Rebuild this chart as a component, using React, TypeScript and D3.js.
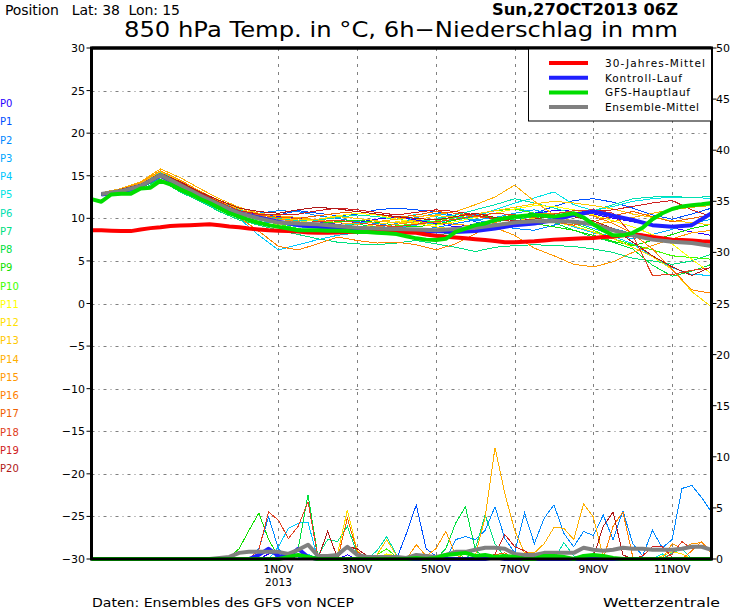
import React, { useRef, useEffect } from "react";
import * as d3 from "d3";

const W = 730;
const H = 609;

// axis ticks
const tempTicks = [30, 25, 20, 15, 10, 5, 0, -5, -10, -15, -20, -25, -30];
const precTicks = [50, 45, 40, 35, 30, 25, 20, 15, 10, 5, 0];
const dateLabels = ["1NOV", "3NOV", "5NOV", "7NOV", "9NOV", "11NOV"];
const dateDays = [1, 3, 5, 7, 9, 11];

const memberNames = ["P0", "P1", "P2", "P3", "P4", "P5", "P6", "P7", "P8", "P9", "P10",
  "P11", "P12", "P13", "P14", "P15", "P16", "P17", "P18", "P19", "P20"];
const memberColors = ["#2a00ff", "#0050ff", "#0088ff", "#00a8ff", "#00c8ff", "#00e4e4", "#00e0b0",
  "#00e080", "#00e040", "#10e000", "#40ff00", "#ffff00", "#ffe000", "#ffc800", "#ffb000",
  "#ff9800", "#ff8000", "#f06000", "#e04020", "#d02020", "#b01818"];

const legendNames = ["30-Jahres-Mittel", "Kontroll-Lauf", "GFS-Hauptlauf", "Ensemble-Mittel"];
const legendColors = ["#ff0000", "#2020ff", "#00dd00", "#808080"];
const legendWidths = [100, 77, 85, 94];

// 6-hourly, 0h .. 378h
const climTemp = [8.6, 8.6, 8.55, 8.5, 8.5, 8.7, 8.85, 8.95, 9.1, 9.15,
  9.2, 9.25, 9.3, 9.2, 9.05, 8.95, 8.8, 8.7, 8.6, 8.55,
  8.5, 8.45, 8.35, 8.3, 8.3, 8.35, 8.4, 8.4, 8.4, 8.4,
  8.4, 8.4, 8.35, 8.3, 8.1, 7.95, 7.85, 7.75, 7.65, 7.55,
  7.45, 7.35, 7.2, 7.2, 7.25, 7.3, 7.4, 7.5, 7.55, 7.6,
  7.65, 7.7, 7.8, 7.85, 8.0, 8.1, 8.0, 7.8, 7.65, 7.5,
  7.45, 7.4, 7.3, 7.25];
const mainTemp = [12.25, 11.95, 12.8, 12.9, 12.9, 13.5, 13.6, 14.4, 14.0, 13.4,
  12.9, 12.3, 11.8, 11.2, 10.6, 10.2, 9.8, 9.5, 9.2, 9.0,
  8.8, 8.6, 8.6, 8.6, 8.55, 8.55, 8.5, 8.4, 8.4, 8.3,
  8.25, 8.15, 7.9, 7.65, 7.5, 7.45, 7.6, 8.4, 8.8, 9.2,
  9.4, 9.8, 10.0, 10.2, 10.3, 10.4, 10.3, 10.2, 10.4, 10.6,
  10.1, 9.3, 8.6, 8.0, 8.0, 8.3, 8.9, 9.9, 10.6, 11.1,
  11.4, 11.55, 11.65, 11.8];

// 12-hourly, 6h .. 378h
const meanTemp = [12.85, 13.2, 13.8, 15.1, 13.9, 12.7, 11.6, 10.6, 10.0, 9.5, 9.4, 9.3, 9.1, 8.9, 8.8, 8.75,
  8.7, 8.6, 8.75, 8.9, 9.2, 9.5, 9.65, 9.7, 9.6, 9.3, 8.6, 8.0, 7.5, 7.25, 7.1, 6.75];
const ctrlTemp = [12.8, 13.1, 13.8, 15.0, 13.8, 12.5, 11.4, 10.6, 10.1, 9.6, 9.2, 9.0, 8.8, 8.6, 8.5, 8.4,
  8.4, 8.5, 8.4, 8.5, 8.8, 9.2, 9.4, 9.8, 10.4, 10.8, 10.3, 9.8, 9.2, 9.0, 9.2, 10.6];
const memberTemp = [
  [12.9, 13.3, 13.9, 15.2, 14.0, 12.8, 11.7, 10.8, 10.4, 10.2, 10.0, 9.6, 9.3, 9.5, 9.9, 10.2, 9.8, 9.4, 9.0, 9.3, 9.8, 10.3, 10.6, 10.9, 11.0, 10.5, 10.0, 9.6, 9.2, 8.9, 8.4, 8.0],
  [12.8, 13.2, 13.8, 15.0, 13.8, 12.6, 11.5, 10.5, 10.2, 10.4, 10.9, 10.6, 10.3, 10.5, 11.0, 11.2, 11.0, 10.8, 10.3, 9.6, 9.0, 9.5, 10.6, 11.4, 12.1, 12.3, 11.9, 11.2, 10.4, 9.9, 10.5, 11.2],
  [12.9, 13.3, 14.0, 15.3, 14.2, 13.0, 11.9, 10.9, 10.6, 10.9, 10.8, 10.3, 10.0, 9.6, 9.4, 9.0, 8.7, 8.9, 9.4, 9.8, 9.4, 8.8, 8.6, 9.2, 9.8, 9.4, 8.8, 8.2, 7.7, 7.4, 7.0, 6.6],
  [12.8, 13.1, 13.7, 14.9, 13.7, 12.4, 11.3, 10.3, 9.6, 9.4, 9.2, 9.0, 8.8, 8.6, 8.9, 9.4, 10.1, 10.6, 10.2, 9.8, 10.1, 10.6, 11.0, 10.4, 9.6, 8.8, 8.1, 7.6, 8.1, 8.7, 9.4, 9.9],
  [12.7, 13.0, 13.5, 14.8, 13.5, 12.1, 11.0, 10.0, 8.0, 6.3, 6.9, 7.5, 8.0, 8.3, 8.6, 8.9, 9.2, 9.5, 9.9, 10.4, 10.9, 11.3, 10.6, 9.8, 9.0, 8.3, 7.9, 7.0, 5.5, 4.2, 3.4, 3.3],
  [12.8, 13.2, 13.8, 15.1, 13.9, 12.6, 11.5, 10.5, 9.8, 9.4, 9.0, 8.9, 9.1, 9.4, 9.6, 9.9, 10.5, 10.2, 9.8, 10.2, 11.0, 11.8, 12.4, 13.1, 11.6, 10.9, 11.4, 12.0, 12.3, 12.5, 12.5, 12.3],
  [12.9, 13.4, 14.1, 15.4, 14.3, 13.1, 12.0, 11.0, 10.5, 10.0, 9.7, 9.8, 10.1, 10.4, 10.2, 9.9, 9.6, 9.9, 10.4, 11.0, 11.6, 12.3, 11.8, 11.2, 10.6, 10.9, 11.6, 12.3, 12.5, 12.6, 12.4, 12.6],
  [12.8, 13.0, 13.4, 14.5, 13.1, 12.0, 10.8, 9.8, 9.2, 8.6, 8.1, 7.6, 7.2, 7.0, 6.9, 7.1, 7.4, 7.0, 6.6, 6.1, 6.6, 6.8, 6.9, 6.8, 6.7, 6.4, 6.0, 5.3, 5.0, 4.6, 5.0, 5.8],
  [12.7, 13.1, 13.6, 14.6, 13.2, 12.2, 11.0, 10.0, 9.3, 8.9, 8.4, 8.6, 9.0, 9.3, 9.0, 8.6, 8.3, 8.0, 8.4, 9.0, 9.6, 9.9, 10.2, 9.5, 8.6, 7.8, 7.2, 6.4, 4.5, 3.2, 3.8, 4.6],
  [12.9, 13.3, 14.0, 15.2, 14.1, 12.9, 11.8, 10.7, 10.0, 9.6, 9.3, 9.4, 9.6, 9.8, 9.5, 9.2, 9.0, 9.3, 9.8, 10.3, 10.1, 9.7, 9.4, 9.0, 8.6, 8.0, 7.3, 6.8, 7.4, 8.1, 8.8, 9.3],
  [12.8, 13.2, 13.9, 15.0, 13.8, 12.7, 11.6, 10.6, 9.9, 9.3, 8.8, 8.4, 8.3, 8.5, 8.8, 9.1, 9.4, 9.7, 10.1, 10.5, 10.9, 11.1, 10.6, 10.0, 9.4, 8.6, 7.6, 6.9, 6.3, 5.6, 5.4, 5.2],
  [12.8, 13.1, 13.7, 14.8, 13.4, 12.4, 11.2, 10.1, 9.5, 9.2, 9.5, 9.9, 10.3, 10.6, 10.4, 9.9, 9.5, 9.2, 9.6, 10.1, 10.6, 11.1, 11.5, 11.4, 11.0, 10.4, 9.7, 9.0, 8.1, 7.0, 5.2, 3.5],
  [12.9, 13.3, 13.9, 15.1, 13.7, 12.5, 11.3, 10.2, 9.6, 9.1, 8.7, 8.5, 8.6, 8.9, 9.3, 9.6, 9.4, 9.0, 8.7, 8.9, 9.3, 9.7, 10.0, 9.6, 9.1, 8.4, 7.6, 6.6, 5.5, 4.0, 1.4, -0.4],
  [12.9, 13.4, 14.1, 15.5, 14.4, 13.2, 12.1, 11.1, 10.5, 10.1, 9.8, 9.9, 10.2, 10.0, 9.7, 9.5, 9.8, 10.3, 10.2, 10.5, 10.9, 11.3, 11.7, 12.0, 11.8, 11.5, 11.1, 10.5, 10.1, 9.7, 9.5, 9.2],
  [13.0, 13.5, 14.3, 15.8, 14.8, 13.5, 12.3, 11.3, 10.6, 10.3, 10.1, 9.8, 9.5, 9.3, 9.6, 9.9, 10.2, 10.4, 10.8, 11.6, 12.5, 13.9, 12.0, 10.4, 9.6, 9.3, 9.6, 10.1, 10.6, 11.0, 11.3, 11.5],
  [12.9, 13.4, 14.2, 15.6, 14.5, 13.2, 12.0, 10.9, 10.3, 9.9, 9.6, 9.3, 9.0, 8.8, 9.0, 9.3, 9.6, 9.5, 9.3, 9.1, 8.9, 8.0, 6.5, 5.6, 4.6, 4.3, 4.9, 6.0, 6.8, 7.6, 8.3, 8.6],
  [12.8, 13.2, 13.8, 15.0, 13.7, 12.4, 11.2, 10.1, 8.5, 6.7, 6.3, 7.0, 7.8, 7.4, 7.1, 7.2, 6.9, 6.3, 7.0, 8.2, 9.5, 10.2, 10.5, 10.6, 10.7, 10.3, 9.4, 8.2, 6.4, 4.0, 1.6, 1.2],
  [12.9, 13.3, 13.9, 15.2, 14.1, 12.9, 11.7, 10.7, 10.4, 10.1, 10.0, 10.3, 10.6, 10.8, 10.5, 10.1, 10.4, 10.8, 10.6, 10.2, 10.0, 10.4, 10.1, 9.6, 9.2, 9.6, 10.3, 10.8, 10.2, 9.6, 10.0, 10.4],
  [12.8, 13.2, 13.9, 15.1, 13.9, 12.7, 11.6, 10.7, 10.2, 9.7, 9.5, 9.6, 9.8, 9.5, 9.2, 9.0, 9.3, 9.6, 9.9, 10.3, 10.6, 10.4, 10.2, 10.5, 10.9, 11.0, 10.6, 8.0, 3.3, 3.4, 3.9, 4.2],
  [12.9, 13.3, 14.0, 15.3, 14.2, 13.0, 11.9, 10.9, 10.5, 10.4, 10.5, 10.9, 11.2, 11.0, 10.7, 10.4, 10.7, 11.0, 10.8, 10.4, 9.9, 9.6, 9.9, 10.3, 10.6, 10.8, 11.0, 11.4, 11.8, 12.1, 11.0, 10.2],
  [12.9, 13.4, 14.0, 15.3, 14.3, 13.1, 12.1, 11.2, 10.8, 10.6, 11.0, 11.3, 11.1, 10.8, 10.5, 10.2, 10.0, 9.8, 10.2, 10.6, 10.1, 9.7, 9.9, 10.4, 10.2, 9.7, 8.8, 7.2, 5.6, 4.3, 3.3, 4.3],
];

// 6h precipitation (mm), 0h .. 378h
const meanPrec = [0, 0, 0, 0, 0, 0, 0, 0, 0, 0, 0, 0, 0, 0.1, 0.2, 0.6,
  0.7, 0.7, 0.7, 0.7, 0.5, 0.9, 1.4, 0.3, 0.3, 0.4, 1.2, 0.4, 0.2, 0.2, 0.2, 0.2,
  0.1, 0.4, 0.3, 0.2, 0.4, 0.7, 0.7, 0.9, 1.1, 1.1, 1.0, 0.5, 0.4, 0.4, 0.6, 0.6,
  0.6, 0.6, 1.1, 0.9, 0.8, 0.9, 1.1, 1.0, 1.0, 0.9, 0.9, 0.9, 1.0, 1.2, 1.2, 0.9];
const ctrlPrec = [0, 0, 0, 0, 0, 0, 0, 0, 0, 0, 0, 0, 0, 0, 0, 0,
  0, 0.4, 1.0, 0.3, 0.2, 1.0, 0.2, 0, 0, 0, 0, 0, 0, 0, 0, 0,
  0, 0, 0, 0, 0, 0, 0, 0, 0, 0.2, 0, 0, 0, 0, 0, 0,
  0, 0, 0, 0, 0, 0, 0, 0, 0, 0, 0, 0, 0, 0, 0, 0];
const mainPrec = [0, 0, 0, 0, 0, 0, 0, 0, 0, 0, 0, 0, 0, 0, 0, 0,
  0, 0, 0, 0, 0.2, 0.4, 0.2, 0, 0, 0, 0, 0, 0, 0, 0, 0,
  0, 0.1, 0, 0.1, 0.4, 0.5, 0.6, 0.3, 0.4, 0.2, 0.3, 0.2, 0, 0, 0.3, 0.3,
  0.2, 0, 0.3, 0.4, 0.3, 0.1, 0, 0, 0, 0, 0, 0, 0, 0, 0, 0];
const memberPrec = [
  [0, 0, 0, 0, 0, 0, 0, 0, 0, 0, 0, 0, 0, 0, 0, 0, 0, 0, 0.5, 0.8, 0.3, 0, 0, 0, 0, 0, 0.4, 0, 0, 0, 0, 0, 0, 0, 0, 0, 0, 0, 0, 0, 0, 0, 0, 0, 0.3, 0.2, 0, 0, 0, 0, 0, 0, 0, 0, 0, 0, 0, 0, 0, 0, 0, 0, 0, 0],
  [0, 0, 0, 0, 0, 0, 0, 0, 0, 0, 0, 0, 0, 0, 0, 0, 0, 0, 0, 0, 0, 0, 0, 0, 0, 0, 0, 0, 0, 0, 0, 0, 2.5, 5.3, 1.0, 0.3, 0, 0, 0, 0, 0.4, 0.2, 0, 0, 0, 0, 0, 0, 0, 0, 0, 0, 0, 0, 0, 0, 0, 0, 0, 0, 0, 0, 0, 0],
  [0, 0, 0, 0, 0, 0, 0, 0, 0, 0, 0, 0, 0, 0, 0, 0, 0, 1.0, 4.1, 1.0, 0, 0, 0, 0, 0, 0, 0, 0, 0, 0, 0, 0, 0, 0, 0, 0, 0, 1.9, 2.2, 1.9, 2.8, 5.1, 2.0, 0.6, 4.5, 1.5, 4.0, 5.3, 2.5, 1.2, 2.7, 2.3, 4.3, 1.9, 4.7, 1.5, 0.3, 2.8, 1.1, 1.9, 6.9, 7.2, 6.0, 4.6],
  [0, 0, 0, 0, 0, 0, 0, 0, 0, 0, 0, 0, 0, 0, 0, 0, 0, 0, 0, 0.3, 0.6, 0.2, 0, 0, 0, 0, 0, 0, 0, 0, 0, 0, 0, 0, 0, 0, 0, 0, 0, 0, 0, 0, 0, 0, 0, 0, 0, 0.4, 0, 0, 0, 0, 0, 0, 0, 0, 0, 0, 0, 0, 0, 0, 0, 0],
  [0, 0, 0, 0, 0, 0, 0, 0, 0, 0, 0, 0, 0, 0, 0, 0, 0, 0, 0, 1.2, 3.0, 3.5, 3.6, 0, 0, 0, 0, 0, 0, 0, 0, 0, 0, 0, 0, 0, 0, 0, 0, 0, 0, 0, 0, 0, 0, 0, 0, 0, 0, 0, 0, 0, 0, 0, 0, 0, 0, 0, 0, 0, 0, 0, 0, 0],
  [0, 0, 0, 0, 0, 0, 0, 0, 0, 0, 0, 0, 0, 0, 0, 0, 0, 0, 0, 0, 0, 0, 0.5, 0, 0, 0, 0, 0, 0, 0, 0, 0, 0, 0, 0, 0, 0, 0, 0, 0, 0, 0, 0, 0, 0, 0.3, 0, 0, 0, 0, 0, 0, 0, 0, 0, 0, 0, 0, 0.5, 0, 0, 0, 0, 0],
  [0, 0, 0, 0, 0, 0, 0, 0, 0, 0, 0, 0, 0, 0, 0, 0, 0, 0, 0, 0, 0, 0, 0, 0, 0, 0, 0, 0, 0, 0.8, 2.2, 0.4, 0, 0, 0, 0, 0, 0, 0, 0, 0, 0, 0, 0, 0, 0, 0, 0, 1.6, 0.3, 0, 0, 0, 0, 0, 0, 0, 0, 0, 0.6, 1.0, 0, 0, 0],
  [0, 0, 0, 0, 0, 0, 0, 0, 0, 0, 0, 0, 0, 0, 0, 0, 0, 0, 0, 0, 0, 0, 0, 0.3, 1.9, 1.7, 3.2, 0.5, 0, 0, 0, 0, 0, 0, 0, 0, 0, 0, 0, 1.0, 4.3, 1.5, 0.2, 0, 0, 0, 0, 0, 0, 0, 0, 0, 0, 0, 0, 0, 0, 0, 0, 0, 0, 0, 0, 0],
  [0, 0, 0, 0, 0, 0, 0, 0, 0, 0, 0, 0, 0, 0, 0, 0, 0, 0, 0, 0, 0, 1.0, 6.3, 0.3, 0, 0, 0, 0, 0, 0, 0, 0, 0, 0, 0, 0, 1.0, 3.5, 5.1, 0.9, 0, 0, 0, 0, 0, 0, 0, 0, 0, 0, 0, 0, 0, 0, 0, 0, 0, 0, 0, 0, 0, 0, 0, 0],
  [0, 0, 0, 0, 0, 0, 0, 0, 0, 0, 0, 0, 0, 0.1, 0.2, 1.0, 2.8, 4.5, 1.9, 0.2, 0, 0, 0, 0, 0, 0, 0, 0, 0, 0, 0, 0, 0, 0, 0, 0, 0, 0, 0, 0, 0, 0, 0, 0, 0, 0, 0, 0, 0, 0, 0, 0, 0, 0, 0, 0, 0, 0, 0, 0, 0, 0, 0, 0],
  [0, 0, 0, 0, 0, 0, 0, 0, 0, 0, 0, 0, 0, 0, 0, 0, 0, 0, 0, 0, 0, 0, 0, 0, 0, 0, 0, 0, 0, 0.4, 1.0, 0.2, 0, 0, 0, 0, 0.4, 0.8, 0, 0, 0, 0, 0, 0, 0, 0, 0, 0, 0, 0, 0, 0, 0, 0, 0, 0, 0, 0, 0, 0, 0, 0, 0, 0],
  [0, 0, 0, 0, 0, 0, 0, 0, 0, 0, 0, 0, 0, 0, 0, 0, 0, 0, 0, 0, 0, 0, 0, 0, 0, 0, 0, 0, 0, 0, 0.5, 0.3, 0, 0, 0, 0, 0, 0, 0, 0, 0, 0, 0, 0, 0, 0, 0, 0, 0, 0, 0, 0, 0, 0, 0, 0, 0, 0, 0, 0, 0, 0, 0, 0],
  [0, 0, 0, 0, 0, 0, 0, 0, 0, 0, 0, 0, 0, 0, 0, 0, 0, 0, 0, 0, 0, 0, 0, 0, 0, 0.5, 4.8, 0.8, 0, 0, 0, 0, 0, 0, 0, 0, 0, 0, 0, 0, 0, 0, 0, 0, 0, 0, 0, 0, 0, 0, 0, 0, 0, 0, 0, 0, 0, 0, 0.3, 0.7, 0.5, 0, 0, 0],
  [0, 0, 0, 0, 0, 0, 0, 0, 0, 0, 0, 0, 0, 0, 0, 0, 0, 0, 0, 0, 0, 0, 0, 0, 0, 0, 0, 0, 0, 0.4, 1.9, 0.3, 0, 0, 0, 0, 0, 0, 0, 0, 0, 0, 0, 0, 0, 0, 0, 0, 0, 0, 0, 0, 0, 0, 0, 0, 0, 0, 0, 0, 0, 0, 0, 0],
  [0, 0, 0, 0, 0, 0, 0, 0, 0, 0, 0, 0, 0, 0, 0, 0, 0, 0, 0, 0, 0, 0, 0, 0, 0, 0, 0, 0, 0, 0, 0, 0, 0, 0, 0, 0, 0, 0, 0, 0.3, 4.1, 10.9, 6.4, 2.8, 0.6, 0.6, 1.5, 3.1, 3.0, 1.9, 5.4, 4.1, 0.2, 0, 0, 0, 0, 0, 0, 0, 0, 0, 0, 0],
  [0, 0, 0, 0, 0, 0, 0, 0, 0, 0, 0, 0, 0, 0, 0, 0, 0, 0, 0, 0, 0, 0, 0, 0, 0, 0, 0, 0, 0, 0, 0, 0, 0, 1.4, 0.3, 1.0, 2.7, 0.4, 0, 0, 0, 0, 0, 0, 0, 0, 0, 0, 0, 0, 0, 0, 0, 0, 0, 0, 0, 0, 0, 1.5, 1.0, 1.5, 1.6, 0.5],
  [0, 0, 0, 0, 0, 0, 0, 0, 0, 0, 0, 0, 0, 0, 0, 0, 0, 0, 0, 0, 0, 0, 0, 0, 0, 0, 0, 0, 0, 0, 0, 0, 0, 0, 0, 0, 0, 0, 0, 0, 0, 0, 0, 0, 0, 0, 0, 0, 0, 0, 0, 0, 0, 3.2, 4.6, 0.2, 0, 0, 0, 0, 0, 0.8, 1.7, 0.6],
  [0, 0, 0, 0, 0, 0, 0, 0, 0, 0, 0, 0, 0, 0, 0, 0, 0, 0, 0, 0, 0, 0, 0, 0, 0, 0, 4.0, 0.7, 0.2, 0, 0, 0, 0, 0, 0, 0, 0, 0, 0, 0, 0, 0.4, 0.6, 0, 0, 0, 0, 0, 0, 0, 0, 0, 0, 0, 0, 0, 0, 0, 0, 0, 0, 0, 0, 0],
  [0, 0, 0, 0, 0, 0, 0, 0, 0, 0, 0, 0, 0, 0, 0, 0, 0, 0.9, 4.6, 3.8, 2.0, 3.2, 5.6, 0.2, 0, 0, 0, 0, 0, 0, 0, 0, 0, 0, 0, 0, 0, 0, 0, 0, 0, 0, 0, 0, 0, 0, 0, 0, 0, 0, 0, 0, 0, 0, 0, 0, 0, 0, 0, 0.5, 1.7, 1.0, 1.3, 0.8],
  [0, 0, 0, 0, 0, 0, 0, 0, 0, 0, 0, 0, 0, 0, 0, 0, 0, 0, 0, 0, 0, 0, 0, 0, 0, 0, 0, 0, 0, 0, 0, 0, 0, 0, 0, 0, 0, 0, 0, 0, 0, 0.5, 2.4, 1.2, 0.8, 0.2, 0, 0, 0, 0, 0, 0, 0, 0, 0, 0, 0.3, 1.2, 1.2, 0.2, 0, 0, 0, 0],
  [0, 0, 0, 0, 0, 0, 0, 0, 0, 0, 0, 0, 0, 0, 0, 0, 0, 0, 0, 0, 0, 0, 0, 0, 2.7, 0.1, 1.2, 1.0, 0.3, 0, 0, 0, 0, 0, 0, 0, 0, 0, 0, 0, 0, 0, 0, 0, 0, 0, 0, 0, 0, 0, 0, 0.2, 3.2, 4.6, 0.4, 0, 0, 0, 0, 0, 0, 0, 0, 0],
];

const App = () => {
  const svgRef = useRef<SVGSVGElement>(null);

  useEffect(() => {
    const svg = d3.select(svgRef.current);
    svg.selectAll("*").remove();

    const left = 91.5, right = 711.5, top = 48, bottom = 559;
    const runStart = Date.UTC(2013, 9, 27, 6);

    const x = d3.scaleLinear().domain([0, 378]).range([left, right]);
    const yT = d3.scaleLinear().domain([-30, 30]).range([bottom, top]);
    const yP = d3.scaleLinear().domain([0, 50]).range([bottom, top]);

    const font = "'DejaVu Sans', sans-serif";

    svg.append("rect").attr("width", W).attr("height", H).attr("fill", "#fff");

    // grid
    const grid = svg.append("g");
    tempTicks.filter((t) => t > -30 && t < 30).forEach((t) => {
      grid.append("line")
        .attr("x1", left).attr("x2", right)
        .attr("y1", Math.round(yT(t)) + 0.5).attr("y2", Math.round(yT(t)) + 0.5)
        .attr("stroke", "#808080").attr("stroke-width", 1)
        .attr("stroke-dasharray", "3,4,1,4");
    });
    const dateHours = dateDays.map((d) => (Date.UTC(2013, 10, d) - runStart) / 3600000);
    dateHours.forEach((h) => {
      grid.append("line")
        .attr("x1", Math.round(x(h)) + 0.5).attr("x2", Math.round(x(h)) + 0.5)
        .attr("y1", top).attr("y2", bottom)
        .attr("stroke", "#808080").attr("stroke-width", 1)
        .attr("stroke-dasharray", "3,5");
    });

    const hours6 = d3.range(64).map((i) => i * 6);
    const hours12 = d3.range(32).map((j) => 6 + j * 12);

    const lineT = (hrs: number[]) =>
      d3.line<number>().x((_, i) => x(hrs[i])).y((d) => yT(d));
    const lineP = d3.line<number>().x((_, i) => x(hours6[i])).y((d) => yP(d));

    const plot = svg.append("g");

    // precipitation members
    memberPrec.forEach((s, k) => {
      plot.append("path").attr("d", lineP(s)).attr("fill", "none")
        .attr("stroke", memberColors[k]).attr("stroke-width", 1)
        .attr("shape-rendering", "crispEdges");
    });
    // temperature members
    memberTemp.forEach((s, k) => {
      plot.append("path").attr("d", lineT(hours12)(s)).attr("fill", "none")
        .attr("stroke", memberColors[k]).attr("stroke-width", 1)
        .attr("shape-rendering", "crispEdges");
    });

    // thick lines: control, climatology, mean, main run
    const thick = (d: string | null, color: string) =>
      plot.append("path").attr("d", d).attr("fill", "none")
        .attr("stroke", color).attr("stroke-width", 4)
        .attr("stroke-linejoin", "round");

    thick(lineP(ctrlPrec), legendColors[1]);
    thick(lineP(meanPrec), legendColors[3]);
    thick(lineP(mainPrec), legendColors[2]);
    thick(lineT(hours12)(ctrlTemp), legendColors[1]);
    thick(lineT(hours6)(climTemp), legendColors[0]);
    thick(lineT(hours12)(meanTemp), legendColors[3]);
    thick(lineT(hours6)(mainTemp), legendColors[2]);

    // frame
    svg.append("rect")
      .attr("x", left).attr("y", top)
      .attr("width", right - left).attr("height", bottom - top)
      .attr("fill", "none").attr("stroke", "#000").attr("stroke-width", 3);

    // left axis labels
    tempTicks.forEach((t) => {
      svg.append("line").attr("x1", left - 5).attr("x2", left)
        .attr("y1", yT(t)).attr("y2", yT(t)).attr("stroke", "#000");
      svg.append("text").attr("x", 85).attr("y", yT(t) + 4)
        .attr("text-anchor", "end").attr("font-family", font).attr("font-size", 11)
        .text(String(t).replace("-", "\u2212"));
    });
    // right axis labels
    precTicks.forEach((p) => {
      svg.append("line").attr("x1", right).attr("x2", right + 5)
        .attr("y1", yP(p)).attr("y2", yP(p)).attr("stroke", "#000");
      svg.append("text").attr("x", 716).attr("y", yP(p) + 4)
        .attr("font-family", font).attr("font-size", 11)
        .text(String(p));
    });

    // date labels
    dateHours.forEach((h, i) => {
      svg.append("text").attr("x", x(h)).attr("y", 573)
        .attr("text-anchor", "middle").attr("font-family", font).attr("font-size", 10.5)
        .text(dateLabels[i]);
    });
    svg.append("text").attr("x", x(dateHours[0])).attr("y", 586)
      .attr("text-anchor", "middle").attr("font-family", font).attr("font-size", 10.5)
      .text("2013");

    // member labels
    memberNames.forEach((n, k) => {
      svg.append("text").attr("x", 0).attr("y", 107 + k * 18.25)
        .attr("font-family", font).attr("font-size", 10)
        .attr("fill", memberColors[k]).text(n);
    });

    // legend
    const lg = svg.append("g");
    lg.append("rect").attr("x", 528.5).attr("y", top).attr("width", right - 528.5)
      .attr("height", 73).attr("fill", "#fff").attr("stroke", "#000");
    legendNames.forEach((n, i) => {
      const ly = 63 + i * 14.7;
      lg.append("line").attr("x1", 549).attr("x2", 588).attr("y1", ly).attr("y2", ly)
        .attr("stroke", legendColors[i]).attr("stroke-width", 4);
      lg.append("text").attr("x", 605).attr("y", ly + 4)
        .attr("font-family", font).attr("font-size", 10.5)
        .attr("textLength", legendWidths[i]).attr("lengthAdjust", "spacing").text(n);
    });
    svg.append("line").attr("x1", left).attr("x2", right).attr("y1", top).attr("y2", top)
      .attr("stroke", "#000").attr("stroke-width", 3);

    // titles
    svg.append("text").attr("x", 5).attr("y", 15).attr("font-family", font)
      .attr("font-size", 14).style("white-space", "pre")
      .attr("textLength", 175).attr("lengthAdjust", "spacing")
      .text("Position   Lat: 38  Lon: 15");
    svg.append("text").attr("x", 492).attr("y", 15).attr("font-family", font)
      .attr("font-size", 15).attr("font-weight", "bold")
      .attr("textLength", 186).attr("lengthAdjust", "spacingAndGlyphs")
      .text("Sun,27OCT2013 06Z");
    svg.append("text").attr("x", 124).attr("y", 37).attr("font-family", font)
      .attr("font-size", 22).attr("textLength", 554).attr("lengthAdjust", "spacingAndGlyphs")
      .text("850 hPa Temp. in \u00B0C, 6h\u2212Niederschlag in mm");
    svg.append("text").attr("x", 92).attr("y", 607).attr("font-family", font)
      .attr("font-size", 12).attr("textLength", 262).attr("lengthAdjust", "spacingAndGlyphs")
      .text("Daten: Ensembles des GFS von NCEP");
    svg.append("text").attr("x", 603).attr("y", 607).attr("font-family", font)
      .attr("font-size", 13).attr("textLength", 117).attr("lengthAdjust", "spacingAndGlyphs")
      .text("Wetterzentrale");
  }, []);

  return (
    <>
      <style>{`body{margin:0}`}</style>
      <svg ref={svgRef} width={W} height={H} style={{ display: "block" }}></svg>
    </>
  );
};

export default App;
